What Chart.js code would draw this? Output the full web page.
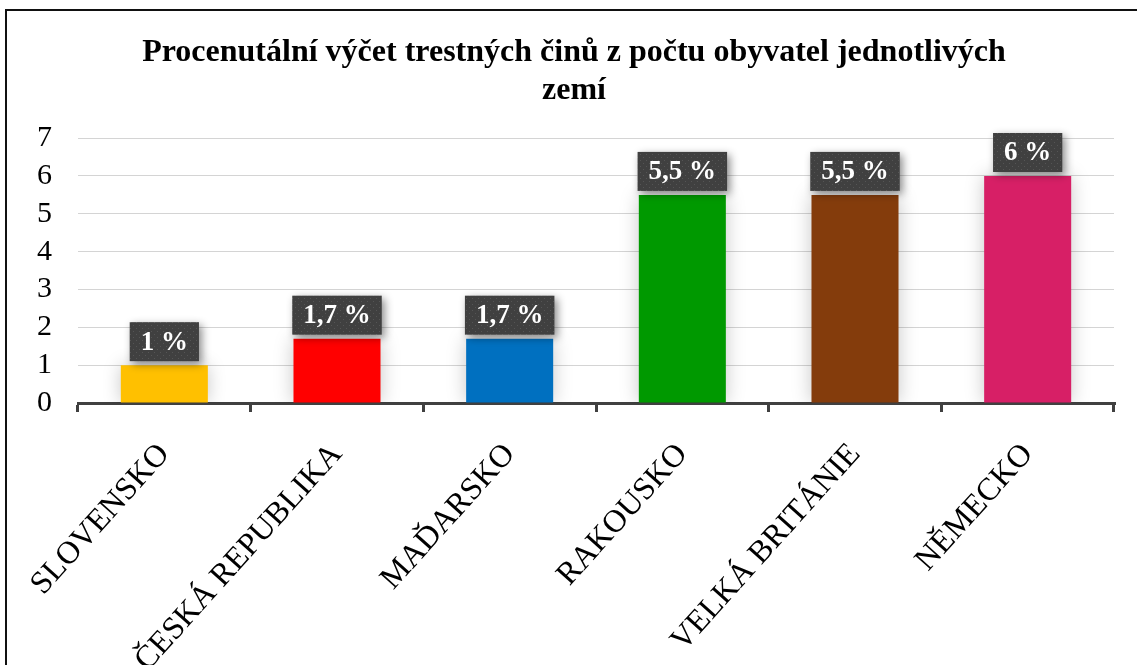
<!DOCTYPE html>
<html>
<head>
<meta charset="utf-8">
<script src="https://cdn.jsdelivr.net/npm/chart.js@4"></script>
<style>
  html, body { margin: 0; padding: 0; background: #fff; overflow: hidden; width: 1137px; height: 665px; }
  #frame { position: absolute; left: 5px; top: 9px; width: 2000px; height: 2000px; border-left: 2px solid #111; border-top: 2px solid #111; box-sizing: border-box; }
  #wrap { position: absolute; left: 0; top: 0; width: 1137px; height: 665px; }
</style>
</head>
<body>
<div id="frame"></div>
<div id="wrap"><canvas id="c"></canvas></div>
<script>
const categories = ["SLOVENSKO", "ČESKÁ REPUBLIKA", "MAĎARSKO", "RAKOUSKO", "VELKÁ BRITÁNIE", "NĚMECKO"];
const values = [1, 1.7, 1.7, 5.5, 5.5, 6];
const valueLabels = ["1 %", "1,7 %", "1,7 %", "5,5 %", "5,5 %", "6 %"];
const barColors = ["#FFC000", "#FF0000", "#0070C0", "#009900", "#843C0C", "#D71F66"];
const titleLines = ["Procenutální výčet trestných činů z počtu obyvatel jednotlivých", "zemí"];

const SERIF = "'Liberation Serif', 'Times New Roman', serif";

function makePattern(ctx) {
  const p = document.createElement('canvas');
  p.width = 6; p.height = 6;
  const pc = p.getContext('2d');
  pc.fillStyle = '#404040';
  pc.fillRect(0, 0, 6, 6);
  pc.fillStyle = '#555555';
  pc.fillRect(1, 1, 1, 1);
  pc.fillRect(4, 4, 1, 1);
  return ctx.createPattern(p, 'repeat');
}

const barShadow = {
  id: 'barShadow',
  beforeDatasetsDraw(chart) {
    const ctx = chart.ctx;
    ctx.save();
    ctx.shadowColor = 'rgba(0,0,0,0.22)';
    ctx.shadowBlur = 18;
    ctx.shadowOffsetX = 0;
    ctx.shadowOffsetY = 0;
  },
  afterDatasetsDraw(chart) {
    chart.ctx.restore();
  }
};

const valueBoxes = {
  id: 'valueBoxes',
  afterDatasetsDraw(chart) {
    const ctx = chart.ctx;
    const meta = chart.getDatasetMeta(0);
    const pat = makePattern(ctx);
    ctx.save();
    ctx.font = "bold 27px " + SERIF;
    meta.data.forEach((bar, i) => {
      const txt = valueLabels[i];
      const tw = ctx.measureText(txt).width;
      const w = tw + 22;
      const h = 39;
      const x = bar.x - w / 2;
      const y = bar.y - 4 - h;
      ctx.save();
      ctx.shadowColor = 'rgba(0,0,0,0.45)';
      ctx.shadowBlur = 8;
      ctx.shadowOffsetX = 3;
      ctx.shadowOffsetY = 3;
      ctx.fillStyle = pat;
      ctx.fillRect(x, y, w, h);
      ctx.restore();
      ctx.fillStyle = '#ffffff';
      ctx.textAlign = 'center';
      ctx.textBaseline = 'middle';
      ctx.fillText(txt, bar.x, y + h / 2 + 1);
    });
    ctx.restore();
  }
};

new Chart(document.getElementById('c'), {
  type: 'bar',
  data: {
    labels: categories,
    datasets: [{
      data: values,
      backgroundColor: barColors,
      borderWidth: 0,
      barPercentage: 0.504,
      categoryPercentage: 1.0
    }]
  },
  options: {
    responsive: true,
    maintainAspectRatio: false,
    animation: false,
    events: [],
    layout: { padding: { left: 34, right: 23, top: 8, bottom: 0 } },
    plugins: {
      legend: { display: false },
      tooltip: { enabled: false },
      title: {
        display: true,
        text: titleLines,
        color: '#000',
        font: { family: SERIF, size: 32, weight: 'bold', lineHeight: 1.19 },
        padding: { top: 26, bottom: 28 }
      }
    },
    scales: {
      x: {
        offset: true,
        border: { display: true, color: '#404040', width: 3 },
        grid: {
          offset: true,
          drawOnChartArea: false,
          drawTicks: true,
          tickLength: 9,
          color: '#404040',
          lineWidth: 3
        },
        ticks: {
          autoSkip: false,
          minRotation: 48,
          maxRotation: 48,
          padding: 24,
          color: '#000',
          font: { family: SERIF, size: 32 }
        },
        afterFit(scale) { scale.height = 262; }
      },
      y: {
        min: 0,
        max: 7,
        border: { display: false },
        grid: { color: '#d4d4d4', lineWidth: 1, drawTicks: false },
        ticks: {
          autoSkip: false,
          stepSize: 1,
          padding: 26,
          color: '#000',
          font: { family: SERIF, size: 30 }
        },
        afterFit(scale) { scale.width = 44; }
      }
    }
  },
  plugins: [barShadow, valueBoxes]
});
</script>
</body>
</html>
